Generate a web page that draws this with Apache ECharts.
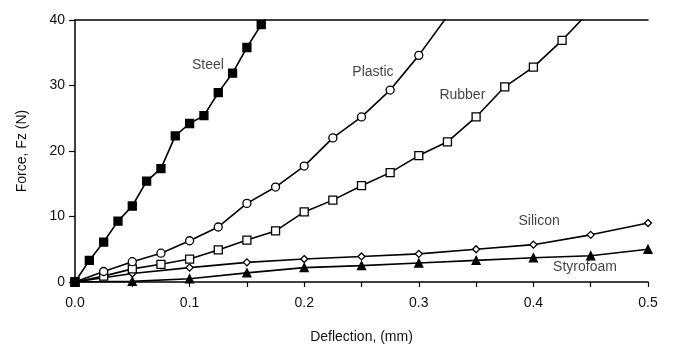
<!DOCTYPE html>
<html>
<head>
<meta charset="utf-8">
<script src="https://cdn.jsdelivr.net/npm/echarts@6/dist/echarts.min.js"></script>
<style>
html,body{margin:0;padding:0;background:#fff;}
#c{width:674px;height:349px;}
</style>
</head>
<body>
<div id="c"></div>
<script>
// Data (x = deflection in mm, y = force in N)
const steelX = [0, 0.0125, 0.025, 0.0375, 0.05, 0.0625, 0.075, 0.0875, 0.1, 0.1125, 0.125, 0.1375, 0.15, 0.1625, 0.175];
const steelY = [0, 3.3, 6.1, 9.3, 11.6, 15.4, 17.3, 22.3, 24.2, 25.4, 28.9, 31.9, 35.8, 39.3, 42.6];

const plasticX = [0, 0.025, 0.05, 0.075, 0.1, 0.125, 0.15, 0.175, 0.2, 0.225, 0.25, 0.275, 0.3, 0.325];
const plasticY = [0, 1.6, 3.1, 4.4, 6.3, 8.4, 12.0, 14.5, 17.7, 22.0, 25.2, 29.3, 34.6, 40.6];

const rubberX = [0, 0.025, 0.05, 0.075, 0.1, 0.125, 0.15, 0.175, 0.2, 0.225, 0.25, 0.275, 0.3, 0.325, 0.35, 0.375, 0.4, 0.425, 0.45];
const rubberY = [0, 0.9, 2.0, 2.7, 3.5, 4.9, 6.4, 7.8, 10.7, 12.5, 14.7, 16.7, 19.3, 21.4, 25.2, 29.8, 32.8, 36.9, 41.5];

const siliconX = [0, 0.05, 0.1, 0.15, 0.2, 0.25, 0.3, 0.35, 0.4, 0.45, 0.5];
const siliconY = [0, 1.3, 2.2, 3.0, 3.5, 3.9, 4.3, 5.0, 5.7, 7.2, 9.0];

const styroX = [0, 0.05, 0.1, 0.15, 0.2, 0.25, 0.3, 0.35, 0.4, 0.45, 0.5];
const styroY = [0, 0.1, 0.5, 1.4, 2.2, 2.5, 2.9, 3.3, 3.7, 4.0, 5.0];

const xTicks = [0, 0.1, 0.2, 0.3, 0.4, 0.5];
const yTicks = [0, 10, 20, 30, 40];

// Curve labels: [x, y, text]
const curveLabels = [
  [0.116, 33.1, 'Steel'],
  [0.260, 32.0, 'Plastic'],
  [0.338, 28.6, 'Rubber'],
  [0.405, 9.3, 'Silicon'],
  [0.445, 2.2, 'Styrofoam']
];

const zip = (xs, ys) => xs.map((x, i) => [x, ys[i]]);
const FONT = '"Liberation Sans", Arial, sans-serif';

function lineSeries(name, xs, ys, symbol, filled, size) {
  return {
    name: name,
    type: 'line',
    data: zip(xs, ys),
    symbol: symbol,
    symbolSize: size,
    showAllSymbol: true,
    clip: true,
    lineStyle: { color: '#000', width: 1.6 },
    itemStyle: { color: filled ? '#000' : '#fff', borderColor: '#000', borderWidth: 1.3 },
    z: 3
  };
}

const chart = echarts.init(document.getElementById('c'), null, { renderer: 'canvas' });
chart.setOption({
  animation: false,
  backgroundColor: '#fff',
  grid: { left: 75, right: 26, top: 20, bottom: 65 },
  xAxis: [{
    type: 'value',
    min: xTicks[0], max: xTicks[xTicks.length - 1], interval: 0.1,
    name: 'Deflection, (mm)',
    nameLocation: 'middle',
    nameGap: 48,
    nameTextStyle: { fontFamily: FONT, fontSize: 14, color: '#111' },
    axisLine: { show: true, lineStyle: { color: '#000', width: 1.5 } },
    axisTick: { show: true, inside: false, length: 5, lineStyle: { color: '#000', width: 1.2 } },
    minorTick: { show: true, splitNumber: 2, length: 5, lineStyle: { color: '#000', width: 1.2 } },
    axisLabel: { fontFamily: FONT, fontSize: 14, color: '#111', margin: 14,
      formatter: v => v.toFixed(1) },
    splitLine: { show: false }
  }, {
    type: 'value', position: 'top',
    min: xTicks[0], max: xTicks[xTicks.length - 1],
    axisLine: { show: true, onZero: false, lineStyle: { color: '#000', width: 1.5 } },
    axisTick: { show: false }, axisLabel: { show: false }, splitLine: { show: false }
  }],
  yAxis: {
    type: 'value',
    min: yTicks[0], max: yTicks[yTicks.length - 1], interval: 10,
    name: 'Force, Fz (N)',
    nameLocation: 'middle',
    nameGap: 46,
    nameTextStyle: { fontFamily: FONT, fontSize: 14, color: '#111' },
    axisLine: { show: true, lineStyle: { color: '#000', width: 1.5 } },
    axisTick: { show: true, inside: false, length: 6, lineStyle: { color: '#000', width: 1.2 } },
    axisLabel: { fontFamily: FONT, fontSize: 14, color: '#111', margin: 10 },
    splitLine: { show: false }
  },
  series: [
    lineSeries('Styrofoam', styroX, styroY, 'triangle', true, 8),
    lineSeries('Silicon', siliconX, siliconY, 'diamond', false, 7),
    lineSeries('Rubber', rubberX, rubberY, 'rect', false, 8),
    lineSeries('Plastic', plasticX, plasticY, 'circle', false, 8),
    lineSeries('Steel', steelX, steelY, 'rect', true, 8),
    {
      type: 'scatter',
      data: curveLabels.map(d => ({ value: [d[0], d[1]], label: { formatter: d[2] } })),
      symbolSize: 0,
      silent: true,
      label: { show: true, position: 'inside', fontFamily: FONT, fontSize: 14, color: '#111' },
      z: 5
    }
  ]
});
</script>
</body>
</html>
